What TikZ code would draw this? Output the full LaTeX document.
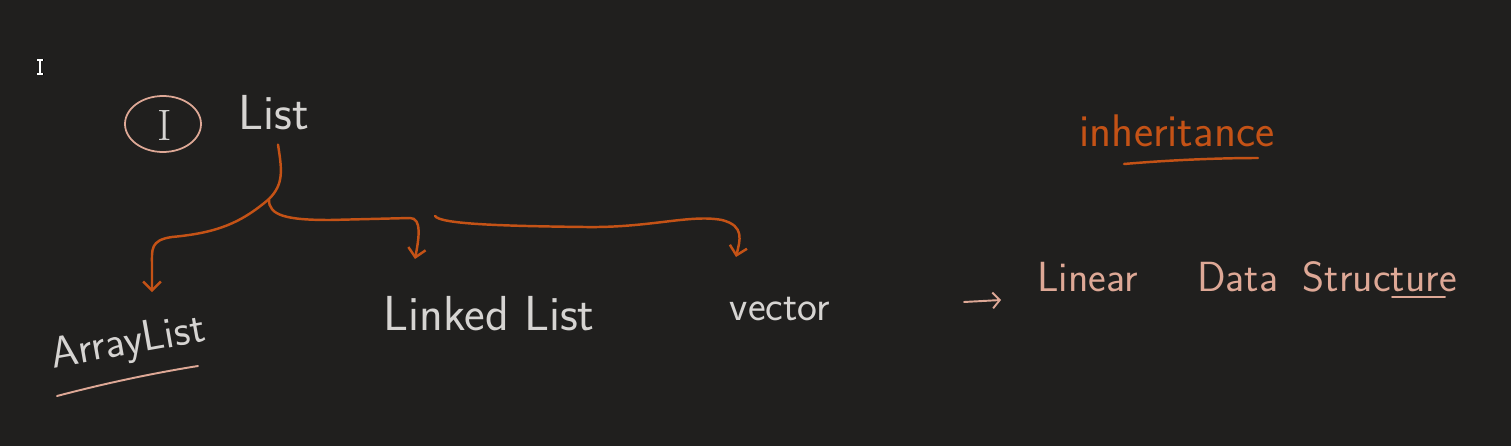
\documentclass[tikz,border=0pt]{standalone}
\usetikzlibrary{arrows.meta,calc,shapes.geometric}

\definecolor{board}{RGB}{32,31,30}
\definecolor{chalk}{RGB}{214,212,210}
\definecolor{rust}{RGB}{196,82,22}
\definecolor{blush}{RGB}{222,168,150}

\tikzset{
  hand/.style={font=\sffamily\fontsize{#1}{#1}\selectfont, inner sep=0pt},
  branch/.style={draw=rust, line width=1.4pt, line cap=round, -{Straight Barb[length=5pt,width=10pt]}},
  stroke/.style={draw=rust, line width=1.4pt, line cap=round},
  underl/.style={line width=1.1pt, line cap=round}
}

\begin{document}
\begin{tikzpicture}[x=0.02cm,y=-0.02cm]
  \fill[board] (0,0) rectangle (1511,446);
  \useasboundingbox (0,0) rectangle (1511,446);

  % text cursor
  \draw[black, line width=1.6pt] (40,60) -- (40,74) (36.5,60) -- (43.5,60) (36.5,74) -- (43.5,74);
  \draw[white, line width=0.6pt] (40,60) -- (40,74) (37,60) -- (43,60) (37,74) -- (43,74);

  % interface
  \node[draw=blush, line width=1pt, ellipse, minimum width=1.52cm, minimum height=1.12cm, inner sep=0pt] (iface) at (163,124) {};
  \node[hand=25pt, text=chalk, font=\rmfamily\fontsize{25pt}{25pt}\selectfont] (ibadge) at (165,125) {I};
  \node[hand=28pt, text=chalk] (list) at (274,113) {List};

  % children
  \node[hand=25pt, text=chalk, rotate=10] (arraylist) at (128,344) {ArrayList};
  \node[hand=28pt, text=chalk] (linked) at (489,314) {Linked List};
  \node[hand=24pt, text=chalk] (vector) at (780,309) {vector};

  \draw[blush, underl] (57,396) .. controls (110,382) and (160,372) .. (198,366);

  % arrows
  \coordinate (fork) at (269,199);
  \coordinate (endA) at (152,292);
  \coordinate (endL) at (415,259);
  \coordinate (startV) at (435,216);
  \coordinate (endV) at (736,257);

  \draw[stroke] ($(list.south)+(4,14)$) .. controls (282,170) and (284,184) .. (fork);
  \draw[branch] (fork) .. controls (240,224) and (215,233) .. (172,237)
     .. controls (150,240) and (152,250) .. (152,264) -- (endA);
  \draw[branch] (fork) .. controls (268,216) and (288,220) .. (330,220)
     -- (410,218) .. controls (422,218) and (419,238) .. (endL);
  \draw[branch] (startV) .. controls (440,224) and (500,226) .. (585,227)
     .. controls (650,228) and (690,214) .. (722,220) .. controls (745,226) and (740,240) .. (endV);

  % side notes
  \node[hand=26pt, text=rust] (inherit) at (1177,131) {inheritance};
  \draw[rust, underl, line width=1.4pt] (1124,164) .. controls (1170,160) and (1220,158) .. (1258,158);

  \coordinate (tipS) at (964,302);
  \node[hand=24pt, text=blush, anchor=west] (linear) at (1037,277) {Linear\hspace{34pt}Data\hspace{14pt}Structure};
  \draw[blush, underl, -{Straight Barb[length=4pt,width=9pt]}] (tipS) -- ($(linear.west)+(-36,23)$);
  \draw[blush, underl] (1392,297) -- (1445,297);
\end{tikzpicture}
\end{document}
